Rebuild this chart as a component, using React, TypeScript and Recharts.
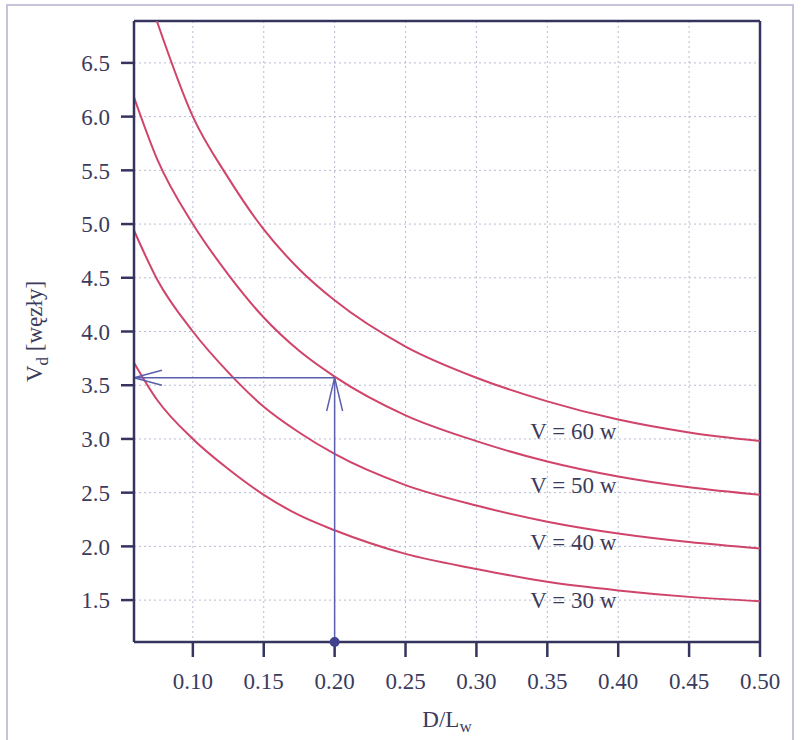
import { LineChart, Line, XAxis, YAxis, CartesianGrid, ReferenceLine, ReferenceDot, Label } from 'recharts'

// D/Lw ratio (x) and Vd in knots for each hull speed curve
const dl = [0.0585, 0.075, 0.1, 0.125, 0.15, 0.175, 0.2, 0.25, 0.3, 0.35, 0.4, 0.45, 0.5]
const v30 = [3.71, 3.36, 3.0, 2.72, 2.48, 2.29, 2.15, 1.93, 1.79, 1.67, 1.59, 1.53, 1.49]
const v40 = [4.94, 4.48, 4.0, 3.62, 3.3, 3.06, 2.86, 2.57, 2.38, 2.23, 2.12, 2.04, 1.98]
const v50 = [6.18, 5.6, 5.0, 4.53, 4.13, 3.82, 3.58, 3.22, 2.98, 2.79, 2.65, 2.55, 2.48]
// the 60 w curve leaves the top of the frame at about D/Lw = 0.0746
const dl60 = [0.0746, 0.1, 0.125, 0.15, 0.175, 0.2, 0.25, 0.3, 0.35, 0.4, 0.45, 0.5]
const v60 = [6.89, 6.0, 5.43, 4.95, 4.58, 4.29, 3.86, 3.57, 3.35, 3.18, 3.06, 2.98]

const xTicks = [0.1, 0.15, 0.2, 0.25, 0.3, 0.35, 0.4, 0.45, 0.5]
const yTicks = [1.5, 2.0, 2.5, 3.0, 3.5, 4.0, 4.5, 5.0, 5.5, 6.0, 6.5]

const curveLabels = [
    { text: 'V = 60 w', y: 3.08 },
    { text: 'V = 50 w', y: 2.57 },
    { text: 'V = 40 w', y: 2.04 },
    { text: 'V = 30 w', y: 1.5 },
]

// example reading shown with arrows
const readX = 0.2
const readY = 3.57

const X_MIN = 0.0585
const X_MAX = 0.5
const Y_MIN = 1.11
const Y_MAX = 6.89

const toRows = (xs: number[], ys: number[]) => xs.map((x, i) => ({ x, y: ys[i] }))
const series = [
    { name: 'V = 30 w', data: toRows(dl, v30) },
    { name: 'V = 40 w', data: toRows(dl, v40) },
    { name: 'V = 50 w', data: toRows(dl, v50) },
    { name: 'V = 60 w', data: toRows(dl60, v60) },
]

const FONT = '"Liberation Serif", "DejaVu Serif", serif'
const INK = '#3b3b5c'
const RED = '#d0446a'
const BLUE = '#5b5fae'
const FRAME = '#34345e'

export default function App() {
    return (
        <div style={{ position: 'absolute', left: 0, top: 0, width: 801, height: 740, background: '#fff' }}>
            <div
                style={{
                    position: 'absolute',
                    left: 6,
                    top: 4,
                    width: 784,
                    height: 740,
                    borderLeft: '2px solid #c6c4d8',
                    borderTop: '2px solid #c6c4d8',
                    borderRight: '2px solid #c6c4d8',
                }}
            />
            <LineChart
                width={801}
                height={740}
                margin={{ top: 21, right: 41, left: 0, bottom: 0 }}
                style={{ position: 'absolute', left: 0, top: 0, fontFamily: FONT }}
            >
                <CartesianGrid stroke="#b7bbd2" strokeDasharray="2 3" />
                <XAxis
                    dataKey="x"
                    type="number"
                    domain={[X_MIN, X_MAX]}
                    ticks={xTicks}
                    allowDataOverflow
                    height={98}
                    tickSize={15}
                    tickMargin={16}
                    tickFormatter={(v: number) => v.toFixed(2)}
                    tick={{ fill: INK, fontSize: 23, fontFamily: FONT }}
                    axisLine={{ stroke: FRAME, strokeWidth: 2.5 }}
                    tickLine={{ stroke: FRAME, strokeWidth: 2.5 }}
                >
                    <Label
                        content={(props: any) => {
                            const vb = props.viewBox
                            return (
                                <text x={vb.x + vb.width / 2} y={727} textAnchor="middle" fill={INK} fontSize={23} fontFamily={FONT}>
                                    D/L
                                    <tspan fontSize={17} dy={5}>w</tspan>
                                </text>
                            )
                        }}
                    />
                </XAxis>
                <YAxis
                    type="number"
                    domain={[Y_MIN, Y_MAX]}
                    ticks={yTicks}
                    allowDataOverflow
                    width={134}
                    tickSize={13}
                    tickMargin={11}
                    tickFormatter={(v: number) => v.toFixed(1)}
                    tick={{ fill: INK, fontSize: 23, fontFamily: FONT }}
                    axisLine={{ stroke: FRAME, strokeWidth: 2.5 }}
                    tickLine={{ stroke: FRAME, strokeWidth: 2.5 }}
                >
                    <Label
                        content={(props: any) => {
                            const vb = props.viewBox
                            const cy = vb.y + vb.height / 2
                            return (
                                <text x={42} y={cy} transform={`rotate(-90 42 ${cy})`} textAnchor="middle" fill={INK} fontSize={23} fontFamily={FONT}>
                                    V
                                    <tspan fontSize={17} dy={6}>d</tspan>
                                    <tspan dy={-6}>{'  [węzły]'}</tspan>
                                </text>
                            )
                        }}
                    />
                </YAxis>

                {/* top and right frame of plot box */}
                <ReferenceLine y={Y_MAX} stroke={FRAME} strokeWidth={2.5} ifOverflow="visible" />
                <ReferenceLine x={X_MAX} stroke={FRAME} strokeWidth={2.5} ifOverflow="visible" />

                {series.map((s) => (
                    <Line
                        key={s.name}
                        name={s.name}
                        data={s.data}
                        dataKey="y"
                        type="monotone"
                        stroke={RED}
                        strokeWidth={2}
                        dot={false}
                        isAnimationActive={false}
                    />
                ))}

                {/* reading arrows */}
                <ReferenceLine segment={[{ x: X_MIN, y: readY }, { x: readX, y: readY }]} stroke={BLUE} strokeWidth={1.5} ifOverflow="visible" />
                <ReferenceLine segment={[{ x: readX, y: Y_MIN }, { x: readX, y: readY }]} stroke={BLUE} strokeWidth={1.5} ifOverflow="visible" />
                <ReferenceLine segment={[{ x: X_MIN, y: readY }, { x: X_MIN + 0.0197, y: readY + 0.07 }]} stroke={BLUE} strokeWidth={1.5} ifOverflow="visible" />
                <ReferenceLine segment={[{ x: X_MIN, y: readY }, { x: X_MIN + 0.0197, y: readY - 0.07 }]} stroke={BLUE} strokeWidth={1.5} ifOverflow="visible" />
                <ReferenceLine segment={[{ x: readX, y: readY }, { x: readX - 0.0056, y: readY - 0.31 }]} stroke={BLUE} strokeWidth={1.5} ifOverflow="visible" />
                <ReferenceLine segment={[{ x: readX, y: readY }, { x: readX + 0.0056, y: readY - 0.31 }]} stroke={BLUE} strokeWidth={1.5} ifOverflow="visible" />
                <ReferenceDot x={readX} y={Y_MIN} r={5} fill="#40428e" stroke="none" ifOverflow="visible" />

                {curveLabels.map((c) => (
                    <ReferenceDot
                        key={c.text}
                        x={0.338}
                        y={c.y}
                        r={0}
                        ifOverflow="visible"
                        label={{ value: c.text, position: 'right', offset: 0, fill: INK, fontSize: 23, fontFamily: FONT }}
                    />
                ))}
            </LineChart>
        </div>
    )
}
